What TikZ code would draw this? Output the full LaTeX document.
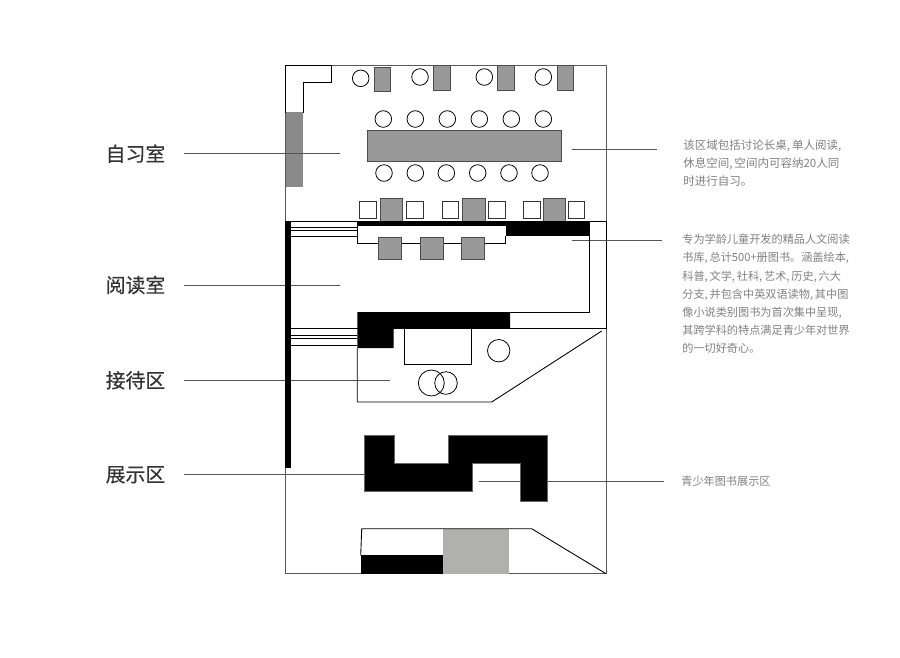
\documentclass[tikz,border=0pt]{standalone}
\usepackage{fontspec}
\setmainfont{Noto Sans CJK SC}
\newfontfamily\zonefont[FakeBold=0.4]{Noto Sans CJK SC}
\usetikzlibrary{positioning, calc}
\definecolor{deskgray}{HTML}{999999}
\definecolor{floorgray}{HTML}{B0B0AE}
\definecolor{notegray}{HTML}{808080}
\definecolor{leadgray}{HTML}{555555}
\tikzset{
	wall/.style={line width=0.5pt,draw=black},
	thinwall/.style={line width=0.45pt,draw=black!65},
	desk/.style={line width=0.5pt,draw=black!70,fill=deskgray},
	seat/.style={line width=0.5pt,draw=black!80,fill=white},
	solid block/.style={fill=black,draw=black!60,line width=0.3pt},
	chair/.style={circle,draw,line width=0.45pt,inner sep=0pt,minimum size=0.332cm},
	leader/.style={line width=0.5pt,draw=leadgray},
	zonename/.style={inner sep=0pt,text=black!80,font=\zonefont\fontsize{11.3}{13}\selectfont},
	note/.style={inner sep=0pt,anchor=west,align=left,text=notegray,font=\fontsize{6.35}{10.35}\selectfont}
}
\begin{document}
\begin{tikzpicture}[x=0.02cm,y=-0.02cm]
	\useasboundingbox (0,0) rectangle (900,657);
	% outer walls
	\draw[thinwall] (285.5,65.5) rectangle (606,573.7);
	\draw[wall] (589.3,221) -- (606,221) -- (606,328) -- (285.5,328);
	% self study room
	\draw[wall,fill=white] (285.5,65.5) -- (331.7,65.5) -- (331.7,82) -- (303,82) -- (303,112) -- (285.5,112) -- cycle;
	\fill[deskgray!90!black] (285.5,112) rectangle (303,187);
	\node[chair] (solo1) at (360.7,78.3) {};
	\node[chair] (solo2) at (420,77) {};
	\node[chair] (solo3) at (484.3,77) {};
	\node[chair] (solo4) at (543.3,77) {};
	\draw[desk] (374.3,67.3) rectangle (390.7,91.7);
	\draw[desk] (433.7,65.7) rectangle (450,90.7);
	\draw[desk] (497.7,65.7) rectangle (514,90.7);
	\draw[desk] (557,65.7) rectangle (573.3,90.7);
	\draw[desk] (367.3,130) rectangle (561.7,161.7);
	\node[chair] (up1) at (383.3,119) {};
	\node[chair] (up2) at (415.3,119) {};
	\node[chair] (up3) at (447.3,119) {};
	\node[chair] (up4) at (479.3,119) {};
	\node[chair] (up5) at (511.3,119) {};
	\node[chair] (up6) at (543.3,119) {};
	\node[chair] (low1) at (384,173) {};
	\node[chair] (low2) at (415.3,173) {};
	\node[chair] (low3) at (446.3,173) {};
	\node[chair] (low4) at (477.7,173) {};
	\node[chair] (low5) at (509,173) {};
	\node[chair] (low6) at (540,173) {};
	\draw[seat] (359.7,201.7) rectangle (376.3,218.3);
	\draw[seat] (406.3,201.7) rectangle (423,218.3);
	\draw[seat] (442.3,201.7) rectangle (458.7,218.3);
	\draw[seat] (488.7,201.7) rectangle (505.3,218.3);
	\draw[seat] (523.3,201.7) rectangle (540,218.3);
	\draw[seat] (568,201.7) rectangle (584.3,218.3);
	\draw[desk] (380.3,198.7) rectangle (402.7,221);
	\draw[desk] (462.7,198) rectangle (485,221);
	\draw[desk] (543,198.7) rectangle (565.7,221);
	% labels and leader lines
	\node[zonename] (study) at (135.5,153.7) {自习室};
	\node[zonename] (reading) at (135.5,285) {阅读室};
	\node[zonename] (reception) at (135.5,380.3) {接待区};
	\node[zonename] (display) at (135.5,474.7) {展示区};
	\node[note,font=\fontsize{6.55}{10.35}\selectfont] (studynote) at (683,163.3) {该区域包括讨论长桌,\,单人阅读,\\休息空间,\,空间内可容纳20人同\\时进行自习。};
	\node[note] (readingnote) at (682,294) {专为学龄儿童开发的精品人文阅读\\书库,\,总计500+册图书。涵盖绘本,\\科普,\,文学,\,社科,\,艺术,\,历史,\,六大\\分支,\,并包含中英双语读物,\,其中图\\像小说类别图书为首次集中呈现,\\其跨学科的特点满足青少年对世界\\的一切好奇心。};
	\node[note] (displaynote) at (681,481) {青少年图书展示区};
	\coordinate (studyend) at (340,153.7);
	\coordinate (readingend) at (340,285);
	\coordinate (receptionend) at (390,380.3);
	\coordinate (displayend) at (364,474.7);
	\coordinate (tablestart) at (572,149.7);
	\coordinate (tableend) at (657,149.7);
	\coordinate (shelfstart) at (571.7,240);
	\coordinate (shelfend) at (662,240);
	\coordinate (teenstart) at (479.3,481);
	\coordinate (teenend) at (664,481);
	\draw[leader,shorten <=0.36cm] (study) -- (studyend);
	\draw[leader,shorten <=0.36cm] (reading) -- (readingend);
	\draw[leader,shorten <=0.36cm] (reception) -- (receptionend);
	\draw[leader,shorten <=0.36cm] (display) -- (displayend);
	\draw[leader] (tablestart) -- (tableend);
	\draw[leader] (shelfstart) -- (shelfend);
	\draw[leader] (teenstart) -- (teenend);
	% reading room
	\fill[black] (285.3,221) rectangle (290.7,468);
	\draw[wall] (290.7,221) -- (357.3,221);
	\draw[wall] (290.7,227.3) -- (357.3,227.3);
	\draw[wall] (290.7,230.7) -- (357.3,230.7);
	\draw[wall] (290.7,236.7) -- (357.3,236.7);
	\draw[wall] (290.7,335.3) -- (357.3,335.3);
	\draw[wall] (290.7,338.7) -- (357.3,338.7);
	\draw[wall] (290.7,345) -- (357.3,345);
	\fill[black] (357.3,221) rectangle (589.3,225.7);
	\fill[black] (505.7,225.7) rectangle (589.3,235.7);
	\draw[wall] (357.3,225.7) -- (357.3,243.3) -- (505.7,243.3) -- (505.7,235.7);
	\draw[desk] (378.3,237) rectangle (401,259.7);
	\draw[desk] (420.3,237) rectangle (443,259.7);
	\draw[desk] (461.3,237) rectangle (484,259.7);
	\draw[wall] (589.3,221) -- (589.3,312) -- (510,312);
	\fill[black] (357.3,312) -- (510,312) -- (510,328) -- (393.7,328) -- (393.7,348) -- (357.3,348) -- cycle;
	% reception
	\draw[wall] (357.3,348) -- (357.3,402) -- (491.7,402) -- (601.7,331);
	\draw[wall] (404.3,328) -- (404.3,364.7) -- (471.3,364.7) -- (471.3,328);
	\node[chair,minimum size=0.448cm] (roundtable) at (498.7,350.7) {};
	\node[chair,minimum size=0.52cm] (sofa1) at (431.3,383) {};
	\node[chair,minimum size=0.452cm] (sofa2) at (446,383) {};
	% display
	\fill[solid block] (364,435.7) -- (394.3,435.7) -- (394.3,463) -- (448.3,463) -- (448.3,435.7) -- (547.7,435.7) -- (547.7,501.3) -- (520.3,501.3) -- (520.3,463.3) -- (472.7,463.3) -- (472.7,491) -- (364,491) -- cycle;
	\fill[floorgray] (443.3,529) rectangle (509.3,573.7);
	\fill[black] (360.7,555.3) rectangle (443.3,573.7);
	\draw[wall] (360.7,555.3) -- (361.7,528.7) -- (531.7,528.7) -- (606,573.7);
\end{tikzpicture}
\end{document}
